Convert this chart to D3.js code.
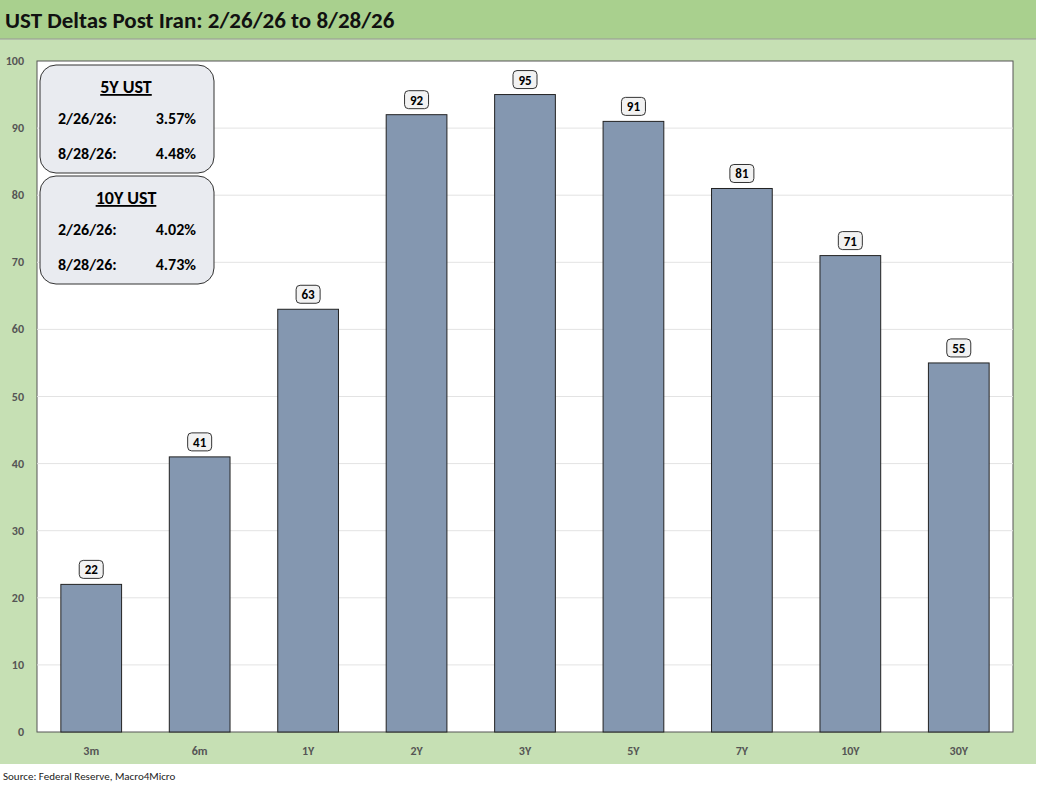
<!DOCTYPE html>
<html><head><meta charset="utf-8">
<script src="https://cdn.jsdelivr.net/npm/d3@7"></script>
<style>body{margin:0;background:#fff}svg{display:block}text{font-family:Calibri,Carlito,"Open Sans",sans-serif}</style>
</head><body><svg id="c" width="1038" height="790"></svg>
<script>
const categories=["3m","6m","1Y","2Y","3Y","5Y","7Y","10Y","30Y"];
const values=[22,41,63,92,95,91,81,71,55];
const yTicks=[0,10,20,30,40,50,60,70,80,90,100];
const boxes=[{title:"5Y UST",rows:[["2/26/26:","3.57%"],["8/28/26:","4.48%"]]},{title:"10Y UST",rows:[["2/26/26:","4.02%"],["8/28/26:","4.73%"]]}];

const svg=d3.select("#c");
svg.append("rect").attr("x",0).attr("y",0).attr("width",1036).attr("height",39).attr("fill","#a9d08e");
svg.append("rect").attr("x",0).attr("y",39).attr("width",1036).attr("height",725).attr("fill","#c6e0b4");
svg.append("line").attr("x1",0).attr("x2",1036).attr("y1",39).attr("y2",39).attr("stroke","#999");
svg.append("text").attr("x",5).attr("y",28).attr("font-size",23).attr("font-weight","bold").attr("fill","#111").text("UST Deltas Post Iran: 2/26/26 to 8/28/26");
svg.append("text").attr("x",3).attr("y",780).attr("font-size",11).attr("fill","#222").text("Source: Federal Reserve, Macro4Micro");

const L=37,R=1013,T=61,B=732;
const x=d3.scaleBand().domain(categories).range([L,R]).paddingInner(0.44).paddingOuter(0.22);
const y=d3.scaleLinear().domain([0,100]).range([B,T]);
svg.append("rect").attr("x",L).attr("y",T).attr("width",R-L).attr("height",B-T).attr("fill","#fff").attr("stroke","#555").attr("stroke-width",1);
svg.append("g").selectAll("line").data(yTicks.slice(1,-1)).join("line").attr("x1",L).attr("x2",R).attr("y1",d=>y(d)).attr("y2",d=>y(d)).attr("stroke","#e3e3e3");
svg.append("g").selectAll("text").data(yTicks).join("text").attr("x",L-13).attr("y",d=>y(d)+4).attr("text-anchor","end").attr("font-size",12).attr("font-weight","bold").attr("fill","#555").text(d=>d);
svg.append("g").selectAll("text").data(categories).join("text").attr("x",d=>x(d)+x.bandwidth()/2).attr("y",755).attr("text-anchor","middle").attr("font-size",12).attr("font-weight","bold").attr("fill","#555").text(d=>d);
svg.append("g").selectAll("rect").data(values).join("rect").attr("x",(d,i)=>x(categories[i])).attr("y",d=>y(d)).attr("width",x.bandwidth()).attr("height",d=>B-y(d)).attr("fill","#8497b0").attr("stroke","#222").attr("stroke-width",1);
const lg=svg.append("g").selectAll("g").data(values).join("g").attr("transform",(d,i)=>`translate(${x(categories[i])+x.bandwidth()/2},${y(d)-15})`);
lg.append("rect").attr("x",-12).attr("y",-9).attr("width",24).attr("height",18).attr("rx",4).attr("fill","#f2f2f2").attr("stroke","#333");
lg.append("text").attr("y",5).attr("text-anchor","middle").attr("font-size",13).attr("font-weight","bold").attr("fill","#000").text(d=>d);
boxes.forEach((b,i)=>{
  const g=svg.append("g").attr("transform",`translate(40,${65+i*111})`);
  g.append("rect").attr("width",174).attr("height",108).attr("rx",16).attr("fill","#e9ebf0").attr("stroke","#333");
  g.append("text").attr("x",86).attr("y",28).attr("text-anchor","middle").attr("font-size",18).attr("font-weight","bold").attr("text-decoration","underline").text(b.title);
  b.rows.forEach((r,j)=>{
    g.append("text").attr("x",18).attr("y",59+j*35).attr("font-size",16).attr("font-weight","bold").text(r[0]);
    g.append("text").attr("x",156).attr("y",59+j*35).attr("text-anchor","end").attr("font-size",16).attr("font-weight","bold").text(r[1]);
  });
});
</script></body></html>
